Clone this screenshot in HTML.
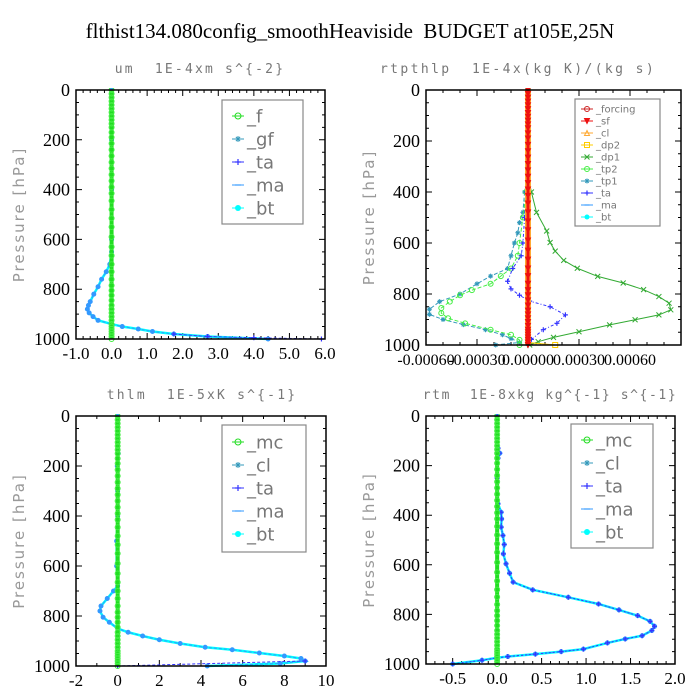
<!DOCTYPE html>
<html><head><meta charset="utf-8"><style>
html,body{margin:0;padding:0;background:#fff;}
svg{display:block;}
</style></head><body>
<svg id="fig" width="700" height="700" xmlns="http://www.w3.org/2000/svg">
<text x="350" y="38" text-anchor="middle" font-family="Liberation Serif, serif" font-size="21" fill="#000" style="white-space:pre">flthist134.080config_smoothHeaviside  BUDGET at105E,25N</text>
</svg>
<script>
// ---- shared levels for zero-valued series ----
const levels = [0,15,30,45,60,75,90,105,120,135,150,170,190,215,240,265,290,315,340,365,390,415,445,480,515,550,590,630,665,700,730,760,785,805,825,845,865,880,895,910,925,940,950,960,970,980,990,1000];
const zeros  = [0,0,0,0,0,0,0,0,0,0,0,0,0,0,0,0,0,0,0,0,0,0,0,0,0,0,0,0,0,0,0,0,0,0,0,0,0,0,0,0,0,0,0,0,0,0,0,0];

// ---- panel 1: um ----
const umP    = [0,200,400,600,650,700,730,760,790,820,850,865,880,895,910,925,940,950,960,970,980,990,1000];
const umVals = [0,0,0,0,0,-0.05,-0.15,-0.28,-0.38,-0.5,-0.6,-0.65,-0.68,-0.63,-0.52,-0.38,0,0.3,0.75,1.15,1.75,2.7,4.4];
const umTaP    = [980,990,995,1000];
const umTaVals = [1.75,2.7,4.0,5.9];
const umXTicks = [-1,0,1,2,3,4,5,6];
const umXLabels = ["-1.0","0.0","1.0","2.0","3.0","4.0","5.0","6.0"];

// ---- panel 2: rtpthlp ----
const dp1P    = [0,340,400,480,553,598,632,668,699,731,757,783,810,836,862,882,901,921,948,970,987,1000];
const dp1Vals = [0,0,0.00002,0.00005,0.00011,0.00013,0.00016,0.00021,0.00029,0.00041,0.00056,0.00068,0.00077,0.00083,0.00084,0.00077,0.00063,0.00048,0.0003,0.00015,0.00006,0.00001];
const tp1P    = [0,340,400,480,520,560,600,650,700,730,760,800,830,860,880,900,920,940,960,975,990,1000];
const tp1Vals = [0,0,-0.00002,-0.00003,-0.00005,-0.00006,-0.00008,-0.0001,-0.00012,-0.00022,-0.0003,-0.0004,-0.00052,-0.00058,-0.00058,-0.0005,-0.00038,-0.00025,-0.00015,-0.0001,-0.00005,-0.00019];
const tp2P    = [0,400,500,600,650,700,730,760,785,805,830,855,875,895,915,940,960,980,1000];
const tp2Vals = [0,-0.00001,-0.00003,-0.00005,-0.00006,-0.0001,-0.00016,-0.00022,-0.00033,-0.0004,-0.00046,-0.00051,-0.00051,-0.00047,-0.00037,-0.00022,-0.0001,-0.00005,-0.00005];
const taP     = [0,400,500,600,650,700,750,780,805,828,850,882,915,940,978,1000];
const taVals  = [0,-0.00001,-0.00002,-0.00003,-0.00004,-0.00009,-0.00012,-0.0001,-0.00005,0.00001,0.00013,0.00022,0.00017,0.00009,0.00002,0];
const dp2P    = [990,1000];
const dp2Vals = [0,0.00016];
const rtXTicks = [-0.0006,-0.0003,0,0.0003,0.0006];
const rtXLabels = ["-0.00060","-0.00030","0.00000","0.00030","0.00060"];

// ---- panel 3: thlm ----
const thP    = [0,150,200,300,400,500,600,680,700,730,760,780,805,825,850,865,880,895,910,925,935,948,960,970,980,990,1000];
const thVals = [0,0.03,-0.02,0,0,-0.05,-0.05,0,-0.2,-0.5,-0.8,-0.85,-0.7,-0.4,0,0.5,1.2,2.0,3.0,4.2,5.5,6.8,8.0,8.8,9.0,7.8,4.3];
const thTaP    = [980,1000];
const thTaVals = [9.0,0];
const thXTicks = [-2,0,2,4,6,8,10];
const thXLabels = ["-2","0","2","4","6","8","10"];

// ---- panel 4: rtm ----
const rtmP    = [0,130,150,170,250,354,388,415,448,482,518,556,596,634,670,701,731,758,782,805,828,848,865,886,899,915,940,950,960,970,975,985,1000];
const rtmVals = [0,0.01,0.03,0.01,0,0.01,0.045,0.05,0.045,0.065,0.08,0.07,0.1,0.14,0.18,0.4,0.8,1.14,1.37,1.58,1.72,1.77,1.74,1.63,1.44,1.24,0.97,0.72,0.43,0.12,0,-0.17,-0.5];
const rtmXTicks = [-0.5,0,0.5,1.0,1.5,2.0];
const rtmXLabels = ["-0.5","0.0","0.5","1.0","1.5","2.0"];

const yTicks = [0,200,400,600,800,1000];
const yLabels = ["0","200","400","600","800","1000"];

const NS = "http://www.w3.org/2000/svg";
const fig = document.getElementById('fig');
function mk(tag, attrs, parent){
  const e = document.createElementNS(NS, tag);
  for (const k in attrs) e.setAttribute(k, attrs[k]);
  (parent||fig).appendChild(e);
  return e;
}

function marker(g, kind, cx, cy, color, s){
  let e;
  if (kind==='circle') e = mk('circle',{cx:cx,cy:cy,r:s,fill:'none',stroke:color,'stroke-width':1},g);
  else if (kind==='dot') e = mk('circle',{cx:cx,cy:cy,r:s,fill:color,stroke:'none'},g);
  else if (kind==='plus') e = mk('path',{d:`M${cx-s} ${cy}H${cx+s}M${cx} ${cy-s}V${cy+s}`,stroke:color,'stroke-width':1.2},g);
  else if (kind==='star') e = mk('path',{d:`M${cx-s} ${cy}H${cx+s}M${cx} ${cy-s}V${cy+s}M${cx-s*0.7} ${cy-s*0.7}L${cx+s*0.7} ${cy+s*0.7}M${cx-s*0.7} ${cy+s*0.7}L${cx+s*0.7} ${cy-s*0.7}`,stroke:color,'stroke-width':1},g);
  else if (kind==='x') e = mk('path',{d:`M${cx-s} ${cy-s}L${cx+s} ${cy+s}M${cx-s} ${cy+s}L${cx+s} ${cy-s}`,stroke:color,'stroke-width':1},g);
  else if (kind==='dash') e = mk('path',{d:`M${cx-s} ${cy}H${cx+s}`,stroke:color,'stroke-width':1.2},g);
  else if (kind==='square') e = mk('rect',{x:cx-s,y:cy-s,width:2*s,height:2*s,fill:'none',stroke:color,'stroke-width':1},g);
  else if (kind==='tri') e = mk('path',{d:`M${cx} ${cy-s}L${cx+s} ${cy+s}L${cx-s} ${cy+s}Z`,fill:'none',stroke:color,'stroke-width':1},g);
  else if (kind==='tridown') e = mk('path',{d:`M${cx} ${cy+s}L${cx+s} ${cy-s}L${cx-s} ${cy-s}Z`,fill:color,stroke:color,'stroke-width':1},g);
  return e;
}

function panel(cfg){
  const g = mk('g',{});
  
  
  const L=cfg.x0,R=cfg.x1,T=cfg.y0,B=cfg.y1;
  const xs = v => L + (v-cfg.xmin)/(cfg.xmax-cfg.xmin)*(R-L);
  const ys = p => T + p/1000*(B-T);
  // title
  const t = mk('text',{x:cfg.tcx,y:T-17,'text-anchor':'middle','font-family':'DejaVu Sans Mono, Liberation Mono, monospace','font-size':13,fill:'#777','letter-spacing':cfg.tls||2.2,style:'white-space:pre'},g);
  t.textContent = cfg.title;
  
  
  // y axis title
  const yt = mk('text',{x:0,y:0,transform:`translate(${L-52},${(T+B)/2}) rotate(-90)`,'text-anchor':'middle','font-family':'DejaVu Sans, Liberation Sans, sans-serif','font-size':15,fill:'#999','letter-spacing':2},g);
  yt.textContent = 'Pressure [hPa]';
  
  
  // ticks
  let d='';
  for (let p=0;p<=1000;p+=50){
    const y=ys(p), len = p%200===0?6:3;
    d+=`M${L} ${y}H${L+len}M${R} ${y}H${R-len}`;
  }
  const step = (cfg.xTicks[1]-cfg.xTicks[0])/cfg.minor;
  for (let v=cfg.xmin; v<=cfg.xmax+1e-12; v+=step){
    const x=xs(v);
    const isMaj = cfg.xTicks.some(tv=>Math.abs(tv-v)<step*0.01);
    const len = isMaj?6:3;
    d+=`M${x} ${B}V${B-len}M${x} ${T}V${T+len}`;
  }
  mk('path',{d:d,stroke:'#000','stroke-width':1,fill:'none'},g);
  yTicks.forEach((p,i)=>{
    const tx = mk('text',{x:L-6,y:ys(p)+6,'text-anchor':'end','font-family':'Liberation Serif, serif','font-size':18,fill:'#000'},g);
    tx.textContent = yLabels[i];
    
    
  });
  cfg.xTicks.forEach((v,i)=>{
    const tx = mk('text',{x:xs(v),y:B+20,'text-anchor':'middle','font-family':'Liberation Serif, serif','font-size':cfg.xfs||17,fill:'#000'},g);
    tx.textContent = cfg.xLabels[i];
    
    
  });
  // series
  const clip = 'clip-'+cfg.name;
  const cp = mk('clipPath',{id:clip},g);
  mk('rect',{x:L-6,y:T-2,width:R-L+12,height:B-T+6},cp);
  const sg = mk('g',{'clip-path':`url(#${clip})`},g);
  cfg.series.forEach(s=>{
    const pts = s.p.map((p,i)=>`${xs(s.v[i])},${ys(p)}`).join(' ');
    const line = mk('polyline',{points:pts,fill:'none',stroke:s.color,'stroke-width':s.w||1,'stroke-dasharray':s.dash||'none'},sg);
    
    
    if (s.m){
      s.p.forEach((p,i)=>{
        const m = marker(sg, s.m, xs(s.v[i]), ys(p), s.mc||s.color, s.ms||2.5);
        
        
      });
    }
  });
  // frame
  mk('rect',{x:L,y:T,width:R-L,height:B-T,fill:'none',stroke:'#000','stroke-width':1.5},g);
  // legend
  const lg = cfg.legend;
  const lb = mk('g',{},g);
  
  
  mk('rect',{x:lg.x,y:lg.y,width:lg.w,height:lg.h,fill:'#fff',stroke:'#888','stroke-width':1.2},lb);
  lg.items.forEach((it,i)=>{
    const y = lg.y+lg.first+i*lg.dy;
    mk('line',{x1:lg.x+lg.mx-6,y1:y,x2:lg.x+lg.mx+6,y2:y,stroke:it.color,'stroke-width':1},lb);
    marker(lb, it.m, lg.x+lg.mx, y, it.color, lg.fs>12?3:2.5);
    const tx = mk('text',{x:lg.x+lg.mx+9,y:y+lg.fs*0.35,'font-family':'DejaVu Sans, Liberation Sans, sans-serif','font-size':lg.fs,fill:'#777'},lb);
    tx.textContent = it.label;
    
    
  });
}

const GREEN='#22dd22', STEEL='#3399bb', BLUE='#3333ff', MA='#3399ff', CYAN='#00ffff', PROF='#1a6dff';

panel({name:'um-panel',title:'um  1E-4xm s^{-2}',tcx:200,x0:76,x1:325,y0:90,y1:339,xmin:-1,xmax:6,xTicks:umXTicks,xLabels:umXLabels,minor:5,
  series:[
    {id:'bt',p:umP,v:umVals,color:CYAN,w:2.5},
    {id:'ma',p:umP,v:umVals,color:MA,w:1,dash:'3,2',m:'dot',ms:2.5},
    {id:'ta',p:umTaP,v:umTaVals,color:BLUE,dash:'3,2',m:'plus'},
    {id:'f',p:levels,v:zeros,color:GREEN,w:4,m:'circle',mc:'#44ee44'}
  ],
  legend:{x:222,y:100,w:81,h:124,first:16,dy:23,mx:16,fs:18,items:[
    {label:'_f',color:GREEN,m:'circle'},{label:'_gf',color:STEEL,m:'star'},{label:'_ta',color:BLUE,m:'plus'},{label:'_ma',color:MA,m:'dash'},{label:'_bt',color:CYAN,m:'dot'}]}
});

panel({name:'rtpthlp-panel',title:'rtpthlp  1E-4x(kg K)/(kg s)',tcx:518,tls:2.4,x0:426,x1:681,y0:90,y1:345,xmin:-0.0006,xmax:0.0009,xTicks:rtXTicks,xLabels:rtXLabels,minor:3,xfs:16,
  series:[
    {id:'dp1',p:dp1P,v:dp1Vals,color:'#33aa33',m:'x'},
    {id:'tp1',p:tp1P,v:tp1Vals,color:STEEL,dash:'4,2',m:'star'},
    {id:'tp2',p:tp2P,v:tp2Vals,color:'#44ee44',dash:'4,2',m:'circle'},
    {id:'ta',p:taP,v:taVals,color:BLUE,dash:'3,2,1,2',m:'plus'},
    {id:'dp2',p:dp2P,v:dp2Vals,color:'#ffcc00',m:'square'},
    {id:'cl',p:levels,v:zeros,color:'#ffaa33',w:6},
    {id:'forcing',p:levels,v:zeros,color:'#ee1111',w:3,m:'tridown',ms:2.5}
  ],
  legend:{x:575,y:99,w:85,h:127,first:10,dy:12,mx:12,fs:10,items:[
    {label:'_forcing',color:'#cc2222',m:'circle'},{label:'_sf',color:'#ee1111',m:'tridown'},{label:'_cl',color:'#ffaa33',m:'tri'},{label:'_dp2',color:'#ffcc00',m:'square'},{label:'_dp1',color:'#33aa33',m:'x'},{label:'_tp2',color:'#44ee44',m:'circle'},{label:'_tp1',color:STEEL,m:'star'},{label:'_ta',color:BLUE,m:'plus'},{label:'_ma',color:MA,m:'dash'},{label:'_bt',color:CYAN,m:'dot'}]}
});

panel({name:'thlm-panel',title:'thlm  1E-5xK s^{-1}',tcx:202,x0:76,x1:326,y0:416,y1:666,xmin:-2,xmax:10,xTicks:thXTicks,xLabels:thXLabels,minor:2,
  series:[
    {id:'bt',p:thP,v:thVals,color:CYAN,w:2.5},
    {id:'ma',p:thP,v:thVals,color:MA,dash:'3,2',m:'dot',ms:2.5},
    {id:'ta',p:thTaP,v:thTaVals,color:BLUE,dash:'3,2',m:'plus'},
    {id:'mc',p:levels,v:zeros,color:GREEN,w:4,m:'circle',mc:'#44ee44'}
  ],
  legend:{x:222,y:425,w:84,h:127,first:17,dy:23,mx:16,fs:18,items:[
    {label:'_mc',color:GREEN,m:'circle'},{label:'_cl',color:STEEL,m:'star'},{label:'_ta',color:BLUE,m:'plus'},{label:'_ma',color:MA,m:'dash'},{label:'_bt',color:CYAN,m:'dot'}]}
});

panel({name:'rtm-panel',title:'rtm  1E-8xkg kg^{-1} s^{-1}',tcx:550,tls:1.6,x0:426,x1:675,y0:416,y1:664,xmin:-0.8,xmax:2.0,xTicks:rtmXTicks,xLabels:rtmXLabels,minor:5,
  series:[
    {id:'bt',p:rtmP,v:rtmVals,color:CYAN,w:2.5},
    {id:'ma',p:rtmP,v:rtmVals,color:MA,dash:'3,2',m:'dot',ms:2.5},
    {id:'ta',p:rtmP,v:rtmVals,color:BLUE,dash:'2,2',m:'plus'},
    {id:'mc',p:levels,v:zeros,color:GREEN,w:4,m:'circle',mc:'#44ee44'}
  ],
  legend:{x:571,y:424,w:82,h:124,first:16,dy:23,mx:16,fs:18,items:[
    {label:'_mc',color:GREEN,m:'circle'},{label:'_cl',color:STEEL,m:'star'},{label:'_ta',color:BLUE,m:'plus'},{label:'_ma',color:MA,m:'dash'},{label:'_bt',color:CYAN,m:'dot'}]}
});
</script>
</body></html>
